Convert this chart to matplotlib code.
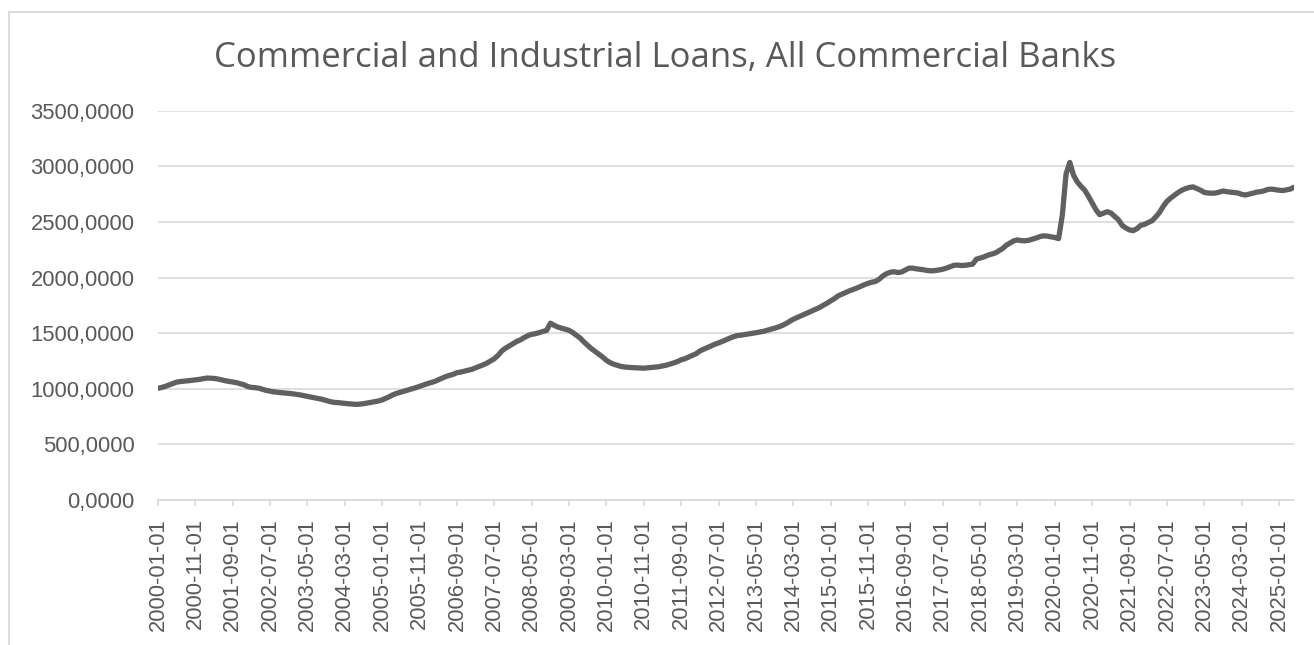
import numpy as np
import pandas as pd
import matplotlib
matplotlib.use("Agg")
import matplotlib.pyplot as plt
from matplotlib.lines import Line2D
from matplotlib.ticker import FuncFormatter

# Commercial and industrial loans, all commercial banks (billions of USD), monthly
start_month = "2000-01-01"
loans_2000 = [1004, 1012, 1022, 1035, 1048, 1060, 1065, 1068, 1072, 1076, 1080, 1084]
loans_2001 = [1090, 1096, 1095, 1093, 1088, 1080, 1072, 1066, 1060, 1055, 1046, 1036]
loans_2002 = [1020, 1012, 1010, 1005, 995, 985, 978, 972, 968, 965, 962, 958]
loans_2003 = [955, 950, 945, 938, 932, 925, 918, 912, 905, 895, 885, 878]
loans_2004 = [876, 872, 868, 865, 862, 860, 862, 866, 872, 878, 884, 890]
loans_2005 = [900, 915, 930, 948, 960, 970, 980, 990, 1000, 1010, 1022, 1035]
loans_2006 = [1045, 1055, 1065, 1080, 1095, 1110, 1120, 1130, 1145, 1150, 1158, 1165]
loans_2007 = [1175, 1188, 1200, 1215, 1230, 1250, 1270, 1300, 1340, 1365, 1385, 1405]
loans_2008 = [1425, 1440, 1460, 1478, 1490, 1495, 1505, 1515, 1525, 1590, 1570, 1555]
loans_2009 = [1545, 1535, 1525, 1505, 1480, 1455, 1420, 1390, 1360, 1335, 1310, 1285]
loans_2010 = [1255, 1235, 1220, 1210, 1200, 1195, 1192, 1190, 1188, 1186, 1185, 1188]
loans_2011 = [1190, 1193, 1198, 1205, 1212, 1222, 1232, 1245, 1260, 1270, 1285, 1300]
loans_2012 = [1315, 1340, 1355, 1370, 1385, 1400, 1412, 1425, 1440, 1455, 1468, 1478]
loans_2013 = [1482, 1488, 1493, 1498, 1504, 1510, 1516, 1525, 1535, 1545, 1555, 1568]
loans_2014 = [1585, 1605, 1625, 1640, 1655, 1670, 1685, 1700, 1715, 1730, 1750, 1768]
loans_2015 = [1790, 1810, 1835, 1850, 1865, 1880, 1892, 1905, 1920, 1935, 1948, 1958]
loans_2016 = [1965, 1985, 2015, 2035, 2048, 2052, 2045, 2050, 2068, 2085, 2084, 2078]
loans_2017 = [2074, 2068, 2063, 2060, 2063, 2068, 2075, 2085, 2098, 2110, 2112, 2108]
loans_2018 = [2110, 2115, 2120, 2165, 2175, 2185, 2200, 2210, 2220, 2240, 2260, 2290]
loans_2019 = [2310, 2330, 2338, 2332, 2330, 2335, 2345, 2355, 2368, 2375, 2372, 2366]
loans_2020 = [2360, 2350, 2560, 2930, 3035, 2920, 2860, 2820, 2785, 2730, 2670, 2610]
loans_2021 = [2565, 2578, 2592, 2580, 2550, 2520, 2470, 2445, 2428, 2422, 2440, 2470]
loans_2022 = [2478, 2495, 2510, 2545, 2585, 2640, 2685, 2715, 2740, 2765, 2785, 2800]
loans_2023 = [2810, 2815, 2800, 2785, 2765, 2760, 2758, 2760, 2768, 2778, 2772, 2768]
loans_2024 = [2765, 2760, 2748, 2742, 2750, 2758, 2768, 2772, 2780, 2792, 2795, 2790]
loans_2025 = [2785, 2782, 2788, 2795, 2812]

values = (loans_2000 + loans_2001 + loans_2002 + loans_2003 + loans_2004 + loans_2005
          + loans_2006 + loans_2007 + loans_2008 + loans_2009 + loans_2010 + loans_2011
          + loans_2012 + loans_2013 + loans_2014 + loans_2015 + loans_2016 + loans_2017
          + loans_2018 + loans_2019 + loans_2020 + loans_2021 + loans_2022 + loans_2023
          + loans_2024 + loans_2025)
dates = pd.date_range(start_month, periods=len(values), freq="MS").strftime("%Y-%m-%d")
label_step = 10

grey_text = "#595959"
grid_grey = "#d9d9d9"

fig = plt.figure(figsize=(13.14, 6.45), dpi=100)
ax = fig.add_axes([158 / 1314, 1 - 500 / 645, (1294 - 158) / 1314, (500 - 110.7) / 645])

x = np.arange(len(values))
ax.plot(x, values, color="#606060", linewidth=3.8, solid_capstyle="round",
        solid_joinstyle="round", zorder=3)

ax.set_xlim(0, len(values) - 1)
ax.set_ylim(0, 3500)
ax.set_yticks(np.arange(0, 3501, 500))
ax.yaxis.set_major_formatter(FuncFormatter(lambda v, _: f"{v:.4f}".replace(".", ",")))
ax.grid(axis="y", color=grid_grey, linewidth=1.2)
ax.set_axisbelow(True)

ticks = x[::label_step]
ax.set_xticks(ticks)
ax.set_xticklabels(dates[::label_step], rotation=90)

for side in ("left", "right", "top"):
    ax.spines[side].set_visible(False)
ax.spines["bottom"].set_color(grid_grey)
ax.spines["bottom"].set_linewidth(1.2)

ax.tick_params(axis="y", length=0, pad=17, labelsize=15.8, labelcolor=grey_text,
               labelfontfamily="Liberation Sans")
ax.tick_params(axis="x", length=4, width=1.2, color=grid_grey, pad=9, labelsize=15.8,
               labelcolor=grey_text, labelfontfamily="Liberation Sans")

fig.text(665 / 1314, 1 - 67 / 645, "Commercial and Industrial Loans, All Commercial Banks",
         ha="center", va="baseline", fontsize=25, color=grey_text, family="Open Sans")

# chart-area frame
fig.add_artist(Line2D([9 / 1314, 9 / 1314], [0, 1 - 12 / 645], color=grid_grey, linewidth=1.3))
fig.add_artist(Line2D([9 / 1314, 1], [1 - 12 / 645, 1 - 12 / 645], color=grid_grey, linewidth=1.3))

fig.savefig("out.png", dpi=100)
